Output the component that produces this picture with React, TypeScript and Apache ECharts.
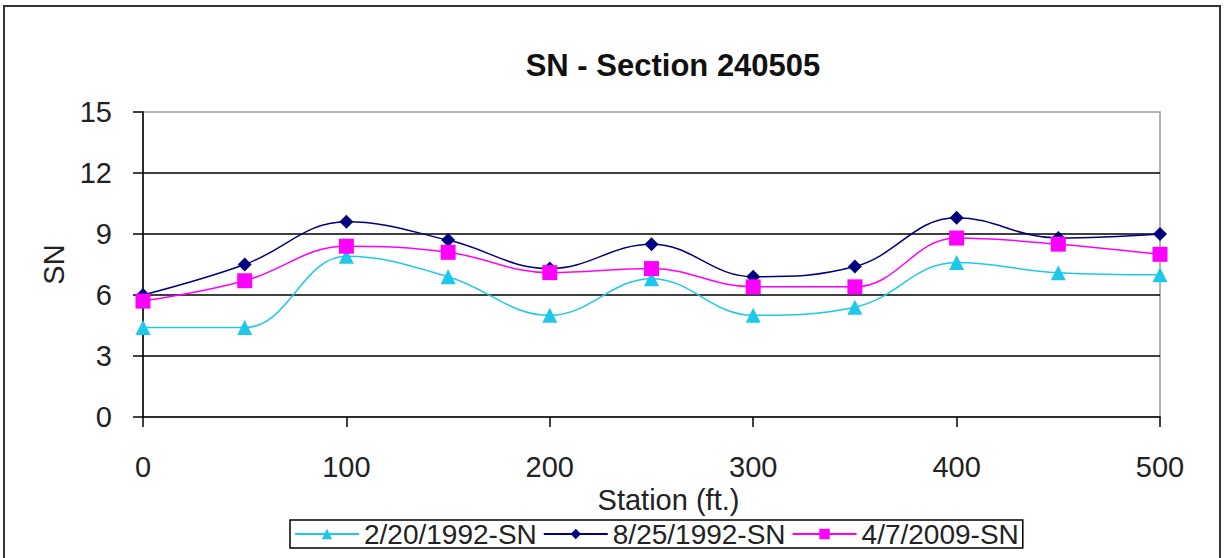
import React, { useEffect, useRef } from "react";
import * as echarts from "echarts";

const stations = [0, 50, 100, 150, 200, 250, 300, 350, 400, 450, 500];
const sn1992Feb = [4.4, 4.4, 7.9, 6.9, 5.0, 6.8, 5.0, 5.4, 7.6, 7.1, 7.0];
const sn1992Aug = [6.0, 7.5, 9.6, 8.7, 7.3, 8.5, 6.9, 7.4, 9.8, 8.8, 9.0];
const sn2009 = [5.7, 6.7, 8.4, 8.1, 7.1, 7.3, 6.4, 6.4, 8.8, 8.5, 8.0];
const seriesNames = ["2/20/1992-SN", "8/25/1992-SN", "4/7/2009-SN"];
const titleText = "SN - Section 240505";
const xAxisTitle = "Station (ft.)";
const yAxisTitle = "SN";

const font = "'Liberation Sans', Arial, sans-serif";

export default function App() {
  const ref = useRef<HTMLDivElement>(null);
  useEffect(() => {
    if (!ref.current) return;
    const chart = echarts.init(ref.current, undefined, { renderer: "svg" });
    const pair = (vals: number[]) => stations.map((s, i) => [s, vals[i]]);
    chart.setOption({
      animation: false,
      backgroundColor: "#ffffff",
      title: {
        text: titleText,
        left: 668,
        top: 45,
        textAlign: "center",
        textStyle: { fontFamily: font, fontSize: 31, fontWeight: "bold", color: "#111" },
      },
      grid: {
        left: 143,
        right: 65,
        top: 112,
        bottom: 141,
        show: true,
        borderColor: "#999",
        borderWidth: 1.5,
        containLabel: false,
      },
      legend: {
        left: 290,
        top: 520,
        data: seriesNames,
        itemWidth: 64,
        itemHeight: 13,
        itemGap: 6,
        padding: [0, 4, 0, 4],
        borderColor: "#000",
        borderWidth: 1.5,
        textStyle: { fontFamily: font, fontSize: 28, color: "#222", lineHeight: 27 },
      },
      xAxis: {
        type: "value",
        min: 0,
        max: 500,
        interval: 100,
        name: xAxisTitle,
        nameLocation: "middle",
        nameGap: 64,
        nameTextStyle: { fontFamily: font, fontSize: 29, color: "#222", padding: [0, 0, 0, 34] },
        axisLine: { show: true, onZero: false, lineStyle: { color: "#000", width: 1.5 } },
        axisTick: { show: true, length: 10, lineStyle: { color: "#000", width: 1.5 } },
        axisLabel: { fontFamily: font, fontSize: 29, color: "#222", margin: 35 },
        splitLine: { show: false },
      },
      yAxis: {
        type: "value",
        min: 0,
        max: 15,
        interval: 3,
        name: yAxisTitle,
        nameLocation: "middle",
        nameGap: 72,
        nameTextStyle: { fontFamily: font, fontSize: 29, color: "#222" },
        axisLine: { show: true, onZero: false, lineStyle: { color: "#000", width: 1.5 } },
        axisTick: { show: true, length: 10, lineStyle: { color: "#000", width: 1.5 } },
        axisLabel: { fontFamily: font, fontSize: 29, color: "#222", margin: 31 },
        splitLine: {
          show: true,
          showMinLine: false,
          showMaxLine: false,
          lineStyle: { color: "#000", width: 1.5 },
        },
      },
      series: [
        {
          name: seriesNames[0],
          type: "line",
          data: pair(sn1992Feb),
          smooth: 0.4,
          symbol: "triangle",
          symbolSize: 15,
          color: "#1ec8ea",
          lineStyle: { width: 1.5, color: "#1ec8ea" },
          itemStyle: { color: "#1ec8ea" },
          z: 2,
        },
        {
          name: seriesNames[1],
          type: "line",
          data: pair(sn1992Aug),
          smooth: 0.4,
          symbol: "diamond",
          symbolSize: 14,
          color: "#000080",
          lineStyle: { width: 1.5, color: "#000080" },
          itemStyle: { color: "#000080" },
          z: 3,
        },
        {
          name: seriesNames[2],
          type: "line",
          data: pair(sn2009),
          smooth: 0.4,
          symbol: "rect",
          symbolSize: 15,
          color: "#ff00ff",
          lineStyle: { width: 1.5, color: "#ff00ff" },
          itemStyle: { color: "#ff00ff" },
          z: 4,
        },
      ],
      graphic: [
        {
          type: "rect",
          shape: { x: 4, y: 6, width: 1216, height: 580 },
          style: { fill: "none", stroke: "#333", lineWidth: 2 },
          silent: true,
          z: 100,
        },
      ],
    });
    return () => chart.dispose();
  }, []);
  return (
    <div
      ref={ref}
      style={{ position: "fixed", left: 0, top: 0, width: 1225, height: 558, background: "#fff" }}
    />
  );
}
